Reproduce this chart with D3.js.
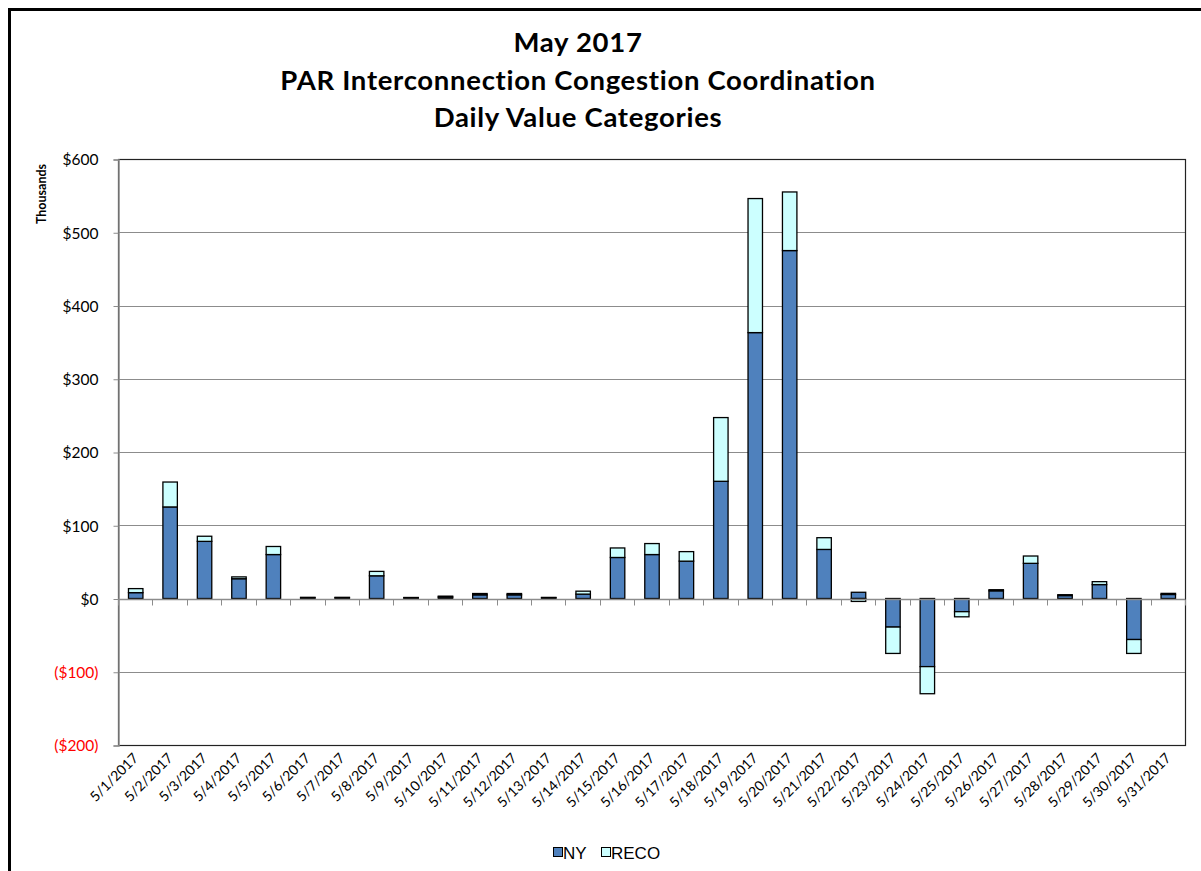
<!DOCTYPE html>
<html>
<head>
<meta charset="utf-8">
<script src="https://cdn.jsdelivr.net/npm/d3@7/dist/d3.min.js"></script>
<style>
  html, body { margin: 0; padding: 0; background: #fff; }
  svg { display: block; }
</style>
</head>
<body>
<svg id="chart" width="1201" height="871"></svg>
<script>
// ---- Data (values in thousands of dollars) ----
const categories = ["5/1/2017","5/2/2017","5/3/2017","5/4/2017","5/5/2017","5/6/2017","5/7/2017","5/8/2017","5/9/2017","5/10/2017","5/11/2017","5/12/2017","5/13/2017","5/14/2017","5/15/2017","5/16/2017","5/17/2017","5/18/2017","5/19/2017","5/20/2017","5/21/2017","5/22/2017","5/23/2017","5/24/2017","5/25/2017","5/26/2017","5/27/2017","5/28/2017","5/29/2017","5/30/2017","5/31/2017"];
const nyValues   = [8, 125, 78, 27, 60, 1, 1, 31, 1, 2, 5, 5, 1, 6, 56, 60, 51, 160, 363, 475, 67, 8.5, -39, -93, -18, 10.5, 48, 4, 19, -56, 5.5];
const recoValues = [5.5, 34, 7, 2.5, 11, 0.6, 0.6, 6, 0.4, 1.2, 1.8, 1.8, 0.5, 4, 13, 15, 13, 87, 183, 80, 16, -4, -36, -37, -7, 1.5, 10, 1.2, 4, -19, 1.5];
const seriesNames = ["NY", "RECO"];
const yTicks = [-200, -100, 0, 100, 200, 300, 400, 500, 600];
const titleLines = ["May 2017", "PAR Interconnection Congestion Coordination", "Daily Value Categories"];
const yAxisTitle = "Thousands";

// ---- Layout ----
const svg = d3.select("#chart");
const W = 1201, H = 871;
const plot = { left: 118, right: 1185, top: 159, bottom: 745 };
const colors = { NY: "#4F81BD", RECO: "#CCFFFF" };
const fontCal = "Lato, 'Open Sans', sans-serif";

svg.append("rect").attr("width", W).attr("height", H).attr("fill", "#fff");
// outer border (extends past window on right/bottom like reference)
svg.append("rect").attr("x", 9.5).attr("y", 9.5).attr("width", 1400).attr("height", 1000)
  .attr("fill", "none").attr("stroke", "#000").attr("stroke-width", 3);

const x = d3.scaleBand().domain(categories)
  .range([plot.left, plot.right]).paddingInner(0.58).paddingOuter(0.29);
const y = d3.scaleLinear().domain([-200, 600]).range([plot.bottom, plot.top]);

// stacked data (diverging like Excel)
const rows = categories.map((c, i) => ({ cat: c, NY: nyValues[i], RECO: recoValues[i] }));
const stack = d3.stack().keys(seriesNames).offset(d3.stackOffsetDiverging);
const layers = stack(rows);

// gridlines
svg.append("g").selectAll("line").data(yTicks.filter(t => t !== 0 && t !== 600 && t !== -200)).join("line")
  .attr("x1", plot.left).attr("x2", plot.right)
  .attr("y1", d => Math.round(y(d)) + 0.5).attr("y2", d => Math.round(y(d)) + 0.5)
  .attr("stroke", "#8c8c8c").attr("stroke-width", 1.2);

// plot area border
svg.append("rect").attr("x", plot.left + 0.5).attr("y", Math.round(y(600)) + 0.5)
  .attr("width", plot.right - plot.left).attr("height", Math.round(y(-200)) - Math.round(y(600)))
  .attr("fill", "none").attr("stroke", "#222").attr("stroke-width", 1.2);

// y axis
const yAxis = d3.axisLeft(y).tickValues(yTicks).tickSize(5).tickPadding(15)
  .tickFormat(d => d < 0 ? "($" + Math.abs(d) + ")" : "$" + d);
const yG = svg.append("g").attr("transform", `translate(${plot.left + 0.5},0.5)`).call(yAxis);
yG.select(".domain").attr("stroke", "#8c8c8c").attr("stroke-width", 1.5);
yG.selectAll(".tick line").attr("stroke", "#8c8c8c");
yG.selectAll(".tick text").attr("font-family", fontCal).attr("font-size", 15.5)
  .attr("fill", d => d < 0 ? "#FF0000" : "#000").attr("dy", "0.35em");

// bars
const barG = svg.append("g");
layers.forEach(layer => {
  barG.append("g").selectAll("rect").data(layer).join("rect")
    .attr("x", d => x(d.data.cat) + 0.5)
    .attr("y", d => y(Math.max(d[0], d[1])))
    .attr("width", x.bandwidth())
    .attr("height", d => Math.abs(y(d[0]) - y(d[1])))
    .attr("fill", colors[layer.key])
    .attr("stroke", "#000").attr("stroke-width", 1.3);
});

// x axis at zero
const y0 = Math.round(y(0)) + 0.5;
svg.append("line").attr("x1", plot.left).attr("x2", plot.right).attr("y1", y0).attr("y2", y0)
  .attr("stroke", "#8c8c8c").attr("stroke-width", 1.5);
const step = x.step();
svg.append("g").selectAll("line").data(d3.range(categories.length + 1)).join("line")
  .attr("x1", i => Math.round(plot.left + i * step) + 0.5).attr("x2", i => Math.round(plot.left + i * step) + 0.5)
  .attr("y1", y0).attr("y2", y0 + 6)
  .attr("stroke", "#8c8c8c").attr("stroke-width", 1);

// x labels (rotated)
svg.append("g").selectAll("text").data(categories).join("text")
  .attr("transform", d => `translate(${x(d) + x.bandwidth() / 2 + 4},${plot.bottom + 14}) rotate(-45)`)
  .attr("text-anchor", "end")
  .attr("font-family", fontCal).attr("font-size", 14).attr("fill", "#000")
  .text(d => d);

// y axis title
svg.append("text").attr("transform", `translate(46,194) rotate(-90)`)
  .attr("text-anchor", "middle").attr("font-family", fontCal).attr("font-weight", "bold")
  .attr("font-size", 12.5).text(yAxisTitle);

// title
svg.append("g").selectAll("text").data(titleLines).join("text")
  .attr("x", 578).attr("y", (d, i) => 52 + i * 37.5)
  .attr("text-anchor", "middle").attr("font-family", fontCal).attr("font-weight", "bold")
  .attr("font-size", 27.5).attr("letter-spacing", 0.7).attr("fill", "#000").text(d => d);

// legend
const legend = svg.append("g");
const legendItems = [{ key: "NY", x: 553 }, { key: "RECO", x: 601 }];
legendItems.forEach(it => {
  legend.append("rect").attr("x", it.x + 0.5).attr("y", 847.5).attr("width", 9).attr("height", 9)
    .attr("fill", colors[it.key]).attr("stroke", "#000").attr("stroke-width", 1);
  legend.append("text").attr("x", it.x + 10).attr("y", 859)
    .attr("font-family", "'Liberation Sans', Arial, sans-serif").attr("font-size", 17)
    .attr("fill", "#000").text(it.key);
});
</script>
</body>
</html>
